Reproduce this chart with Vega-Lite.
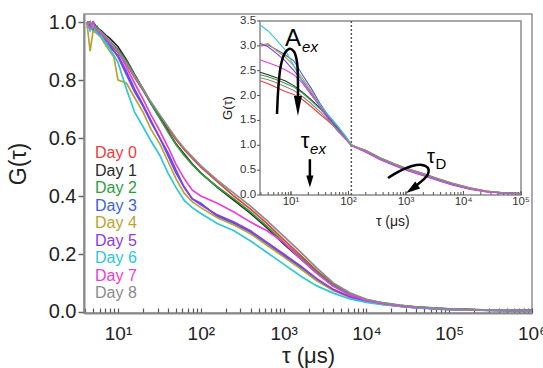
{
"$schema":"https://vega.github.io/schema/vega-lite/v6.json",
"width":448,"height":299,
"autosize":{"type":"none"},
"padding":{"left":84,"top":14,"right":11,"bottom":55},
"config":{"font":"Liberation Sans","view":{"stroke":"#8f8f8f","strokeWidth":1.5},"axis":{"grid":false,"labelColor":"#222","titleColor":"#222"}},
"datasets":{
"main":[
{"s":"Day 0","t":4.2,"g":1.0},{"s":"Day 0","t":4.6,"g":0.98},{"s":"Day 0","t":5,"g":0.99},{"s":"Day 0","t":5.6,"g":0.97},{"s":"Day 0","t":6.3,"g":0.96},{"s":"Day 0","t":7.1,"g":0.94},{"s":"Day 0","t":7.9,"g":0.93},{"s":"Day 0","t":8.9,"g":0.91},{"s":"Day 0","t":10,"g":0.895},{"s":"Day 0","t":12.6,"g":0.855},{"s":"Day 0","t":15.8,"g":0.81},{"s":"Day 0","t":20,"g":0.765},{"s":"Day 0","t":25,"g":0.72},{"s":"Day 0","t":32,"g":0.675},{"s":"Day 0","t":40,"g":0.635},{"s":"Day 0","t":50,"g":0.595},{"s":"Day 0","t":63,"g":0.56},{"s":"Day 0","t":79,"g":0.53},{"s":"Day 0","t":100,"g":0.5},{"s":"Day 0","t":158,"g":0.45},{"s":"Day 0","t":251,"g":0.4},{"s":"Day 0","t":398,"g":0.355},{"s":"Day 0","t":631,"g":0.305},{"s":"Day 0","t":1000,"g":0.25},{"s":"Day 0","t":1585,"g":0.197},{"s":"Day 0","t":2512,"g":0.143},{"s":"Day 0","t":3981,"g":0.096},{"s":"Day 0","t":6310,"g":0.063},{"s":"Day 0","t":10000,"g":0.042},{"s":"Day 0","t":15850,"g":0.031},{"s":"Day 0","t":25120,"g":0.023},{"s":"Day 0","t":39810,"g":0.017},{"s":"Day 0","t":63100,"g":0.013},{"s":"Day 0","t":100000,"g":0.01},{"s":"Day 0","t":200000,"g":0.008},{"s":"Day 0","t":400000,"g":0.006},{"s":"Day 0","t":1000000,"g":0.006},
{"s":"Day 1","t":4.2,"g":1.0},{"s":"Day 1","t":4.6,"g":0.99},{"s":"Day 1","t":5,"g":1.0},{"s":"Day 1","t":5.6,"g":0.98},{"s":"Day 1","t":6.3,"g":0.97},{"s":"Day 1","t":7.1,"g":0.955},{"s":"Day 1","t":7.9,"g":0.945},{"s":"Day 1","t":8.9,"g":0.93},{"s":"Day 1","t":10,"g":0.915},{"s":"Day 1","t":12.6,"g":0.87},{"s":"Day 1","t":15.8,"g":0.82},{"s":"Day 1","t":20,"g":0.77},{"s":"Day 1","t":25,"g":0.72},{"s":"Day 1","t":32,"g":0.67},{"s":"Day 1","t":40,"g":0.625},{"s":"Day 1","t":50,"g":0.58},{"s":"Day 1","t":63,"g":0.545},{"s":"Day 1","t":79,"g":0.51},{"s":"Day 1","t":100,"g":0.48},{"s":"Day 1","t":158,"g":0.43},{"s":"Day 1","t":251,"g":0.385},{"s":"Day 1","t":398,"g":0.34},{"s":"Day 1","t":631,"g":0.29},{"s":"Day 1","t":1000,"g":0.235},{"s":"Day 1","t":1585,"g":0.185},{"s":"Day 1","t":2512,"g":0.135},{"s":"Day 1","t":3981,"g":0.09},{"s":"Day 1","t":6310,"g":0.06},{"s":"Day 1","t":10000,"g":0.04},{"s":"Day 1","t":15850,"g":0.03},{"s":"Day 1","t":25120,"g":0.022},{"s":"Day 1","t":39810,"g":0.017},{"s":"Day 1","t":63100,"g":0.013},{"s":"Day 1","t":100000,"g":0.01},{"s":"Day 1","t":200000,"g":0.007},{"s":"Day 1","t":400000,"g":0.006},{"s":"Day 1","t":1000000,"g":0.005},
{"s":"Day 2","t":4.2,"g":0.98},{"s":"Day 2","t":4.6,"g":1.0},{"s":"Day 2","t":5,"g":0.97},{"s":"Day 2","t":5.6,"g":0.985},{"s":"Day 2","t":6.3,"g":0.96},{"s":"Day 2","t":7.1,"g":0.95},{"s":"Day 2","t":7.9,"g":0.935},{"s":"Day 2","t":8.9,"g":0.92},{"s":"Day 2","t":10,"g":0.905},{"s":"Day 2","t":12.6,"g":0.865},{"s":"Day 2","t":15.8,"g":0.815},{"s":"Day 2","t":20,"g":0.768},{"s":"Day 2","t":25,"g":0.718},{"s":"Day 2","t":32,"g":0.668},{"s":"Day 2","t":40,"g":0.622},{"s":"Day 2","t":50,"g":0.578},{"s":"Day 2","t":63,"g":0.54},{"s":"Day 2","t":79,"g":0.508},{"s":"Day 2","t":100,"g":0.478},{"s":"Day 2","t":158,"g":0.432},{"s":"Day 2","t":251,"g":0.39},{"s":"Day 2","t":398,"g":0.345},{"s":"Day 2","t":631,"g":0.295},{"s":"Day 2","t":1000,"g":0.24},{"s":"Day 2","t":1585,"g":0.19},{"s":"Day 2","t":2512,"g":0.138},{"s":"Day 2","t":3981,"g":0.092},{"s":"Day 2","t":6310,"g":0.062},{"s":"Day 2","t":10000,"g":0.042},{"s":"Day 2","t":15850,"g":0.031},{"s":"Day 2","t":25120,"g":0.023},{"s":"Day 2","t":39810,"g":0.017},{"s":"Day 2","t":63100,"g":0.014},{"s":"Day 2","t":100000,"g":0.011},{"s":"Day 2","t":200000,"g":0.008},{"s":"Day 2","t":400000,"g":0.006},{"s":"Day 2","t":1000000,"g":0.005},
{"s":"Day 3","t":4.2,"g":0.99},{"s":"Day 3","t":4.6,"g":1.0},{"s":"Day 3","t":5,"g":0.97},{"s":"Day 3","t":5.6,"g":0.965},{"s":"Day 3","t":6.3,"g":0.95},{"s":"Day 3","t":7.1,"g":0.935},{"s":"Day 3","t":7.9,"g":0.915},{"s":"Day 3","t":8.9,"g":0.9},{"s":"Day 3","t":10,"g":0.885},{"s":"Day 3","t":12.6,"g":0.83},{"s":"Day 3","t":15.8,"g":0.77},{"s":"Day 3","t":20,"g":0.715},{"s":"Day 3","t":25,"g":0.66},{"s":"Day 3","t":32,"g":0.6},{"s":"Day 3","t":40,"g":0.55},{"s":"Day 3","t":50,"g":0.49},{"s":"Day 3","t":63,"g":0.43},{"s":"Day 3","t":79,"g":0.39},{"s":"Day 3","t":100,"g":0.375},{"s":"Day 3","t":158,"g":0.33},{"s":"Day 3","t":251,"g":0.305},{"s":"Day 3","t":398,"g":0.275},{"s":"Day 3","t":631,"g":0.235},{"s":"Day 3","t":1000,"g":0.195},{"s":"Day 3","t":1585,"g":0.155},{"s":"Day 3","t":2512,"g":0.112},{"s":"Day 3","t":3981,"g":0.076},{"s":"Day 3","t":6310,"g":0.052},{"s":"Day 3","t":10000,"g":0.036},{"s":"Day 3","t":15850,"g":0.027},{"s":"Day 3","t":25120,"g":0.02},{"s":"Day 3","t":39810,"g":0.015},{"s":"Day 3","t":63100,"g":0.012},{"s":"Day 3","t":100000,"g":0.009},{"s":"Day 3","t":200000,"g":0.007},{"s":"Day 3","t":400000,"g":0.006},{"s":"Day 3","t":1000000,"g":0.005},
{"s":"Day 4","t":4.2,"g":1.0},{"s":"Day 4","t":4.6,"g":0.9},{"s":"Day 4","t":5,"g":0.97},{"s":"Day 4","t":5.6,"g":0.96},{"s":"Day 4","t":6.3,"g":0.945},{"s":"Day 4","t":7.1,"g":0.92},{"s":"Day 4","t":7.9,"g":0.9},{"s":"Day 4","t":8.9,"g":0.88},{"s":"Day 4","t":10,"g":0.8},{"s":"Day 4","t":12.6,"g":0.79},{"s":"Day 4","t":15.8,"g":0.74},{"s":"Day 4","t":20,"g":0.69},{"s":"Day 4","t":25,"g":0.63},{"s":"Day 4","t":32,"g":0.58},{"s":"Day 4","t":40,"g":0.52},{"s":"Day 4","t":50,"g":0.46},{"s":"Day 4","t":63,"g":0.41},{"s":"Day 4","t":79,"g":0.38},{"s":"Day 4","t":100,"g":0.36},{"s":"Day 4","t":158,"g":0.325},{"s":"Day 4","t":251,"g":0.3},{"s":"Day 4","t":398,"g":0.27},{"s":"Day 4","t":631,"g":0.23},{"s":"Day 4","t":1000,"g":0.19},{"s":"Day 4","t":1585,"g":0.15},{"s":"Day 4","t":2512,"g":0.108},{"s":"Day 4","t":3981,"g":0.074},{"s":"Day 4","t":6310,"g":0.05},{"s":"Day 4","t":10000,"g":0.035},{"s":"Day 4","t":15850,"g":0.026},{"s":"Day 4","t":25120,"g":0.02},{"s":"Day 4","t":39810,"g":0.015},{"s":"Day 4","t":63100,"g":0.012},{"s":"Day 4","t":100000,"g":0.009},{"s":"Day 4","t":200000,"g":0.007},{"s":"Day 4","t":400000,"g":0.005},{"s":"Day 4","t":1000000,"g":0.005},
{"s":"Day 5","t":4.2,"g":1.0},{"s":"Day 5","t":4.6,"g":1.0},{"s":"Day 5","t":5,"g":0.98},{"s":"Day 5","t":5.6,"g":0.97},{"s":"Day 5","t":6.3,"g":0.96},{"s":"Day 5","t":7.1,"g":0.945},{"s":"Day 5","t":7.9,"g":0.925},{"s":"Day 5","t":8.9,"g":0.9},{"s":"Day 5","t":10,"g":0.88},{"s":"Day 5","t":12.6,"g":0.82},{"s":"Day 5","t":15.8,"g":0.76},{"s":"Day 5","t":20,"g":0.71},{"s":"Day 5","t":25,"g":0.655},{"s":"Day 5","t":32,"g":0.6},{"s":"Day 5","t":40,"g":0.54},{"s":"Day 5","t":50,"g":0.48},{"s":"Day 5","t":63,"g":0.43},{"s":"Day 5","t":79,"g":0.39},{"s":"Day 5","t":100,"g":0.37},{"s":"Day 5","t":158,"g":0.335},{"s":"Day 5","t":251,"g":0.31},{"s":"Day 5","t":398,"g":0.28},{"s":"Day 5","t":631,"g":0.24},{"s":"Day 5","t":1000,"g":0.2},{"s":"Day 5","t":1585,"g":0.16},{"s":"Day 5","t":2512,"g":0.115},{"s":"Day 5","t":3981,"g":0.078},{"s":"Day 5","t":6310,"g":0.053},{"s":"Day 5","t":10000,"g":0.037},{"s":"Day 5","t":15850,"g":0.027},{"s":"Day 5","t":25120,"g":0.02},{"s":"Day 5","t":39810,"g":0.015},{"s":"Day 5","t":63100,"g":0.012},{"s":"Day 5","t":100000,"g":0.009},{"s":"Day 5","t":200000,"g":0.007},{"s":"Day 5","t":400000,"g":0.005},{"s":"Day 5","t":1000000,"g":0.005},
{"s":"Day 6","t":4.2,"g":1.0},{"s":"Day 6","t":4.6,"g":0.97},{"s":"Day 6","t":5,"g":0.99},{"s":"Day 6","t":5.6,"g":0.96},{"s":"Day 6","t":6.3,"g":0.95},{"s":"Day 6","t":7.1,"g":0.93},{"s":"Day 6","t":7.9,"g":0.91},{"s":"Day 6","t":8.9,"g":0.885},{"s":"Day 6","t":10,"g":0.86},{"s":"Day 6","t":12.6,"g":0.77},{"s":"Day 6","t":15.8,"g":0.69},{"s":"Day 6","t":20,"g":0.64},{"s":"Day 6","t":25,"g":0.59},{"s":"Day 6","t":32,"g":0.54},{"s":"Day 6","t":40,"g":0.48},{"s":"Day 6","t":50,"g":0.43},{"s":"Day 6","t":63,"g":0.385},{"s":"Day 6","t":79,"g":0.36},{"s":"Day 6","t":100,"g":0.34},{"s":"Day 6","t":158,"g":0.305},{"s":"Day 6","t":251,"g":0.28},{"s":"Day 6","t":398,"g":0.245},{"s":"Day 6","t":631,"g":0.205},{"s":"Day 6","t":1000,"g":0.165},{"s":"Day 6","t":1585,"g":0.125},{"s":"Day 6","t":2512,"g":0.09},{"s":"Day 6","t":3981,"g":0.065},{"s":"Day 6","t":6310,"g":0.045},{"s":"Day 6","t":10000,"g":0.033},{"s":"Day 6","t":15850,"g":0.025},{"s":"Day 6","t":25120,"g":0.019},{"s":"Day 6","t":39810,"g":0.014},{"s":"Day 6","t":63100,"g":0.011},{"s":"Day 6","t":100000,"g":0.008},{"s":"Day 6","t":200000,"g":0.006},{"s":"Day 6","t":400000,"g":0.005},{"s":"Day 6","t":1000000,"g":0.004},
{"s":"Day 7","t":4.2,"g":1.0},{"s":"Day 7","t":4.6,"g":0.98},{"s":"Day 7","t":5,"g":1.0},{"s":"Day 7","t":5.6,"g":0.97},{"s":"Day 7","t":6.3,"g":0.96},{"s":"Day 7","t":7.1,"g":0.945},{"s":"Day 7","t":7.9,"g":0.93},{"s":"Day 7","t":8.9,"g":0.915},{"s":"Day 7","t":10,"g":0.9},{"s":"Day 7","t":12.6,"g":0.845},{"s":"Day 7","t":15.8,"g":0.79},{"s":"Day 7","t":20,"g":0.735},{"s":"Day 7","t":25,"g":0.68},{"s":"Day 7","t":32,"g":0.625},{"s":"Day 7","t":40,"g":0.57},{"s":"Day 7","t":50,"g":0.51},{"s":"Day 7","t":63,"g":0.46},{"s":"Day 7","t":79,"g":0.42},{"s":"Day 7","t":100,"g":0.4},{"s":"Day 7","t":158,"g":0.375},{"s":"Day 7","t":251,"g":0.345},{"s":"Day 7","t":398,"g":0.31},{"s":"Day 7","t":631,"g":0.28},{"s":"Day 7","t":1000,"g":0.24},{"s":"Day 7","t":1585,"g":0.185},{"s":"Day 7","t":2512,"g":0.133},{"s":"Day 7","t":3981,"g":0.089},{"s":"Day 7","t":6310,"g":0.059},{"s":"Day 7","t":10000,"g":0.04},{"s":"Day 7","t":15850,"g":0.029},{"s":"Day 7","t":25120,"g":0.021},{"s":"Day 7","t":39810,"g":0.016},{"s":"Day 7","t":63100,"g":0.012},{"s":"Day 7","t":100000,"g":0.009},{"s":"Day 7","t":200000,"g":0.007},{"s":"Day 7","t":400000,"g":0.006},{"s":"Day 7","t":1000000,"g":0.005},
{"s":"Day 8","t":4.2,"g":0.99},{"s":"Day 8","t":4.6,"g":1.0},{"s":"Day 8","t":5,"g":0.98},{"s":"Day 8","t":5.6,"g":0.975},{"s":"Day 8","t":6.3,"g":0.965},{"s":"Day 8","t":7.1,"g":0.95},{"s":"Day 8","t":7.9,"g":0.935},{"s":"Day 8","t":8.9,"g":0.915},{"s":"Day 8","t":10,"g":0.9},{"s":"Day 8","t":12.6,"g":0.86},{"s":"Day 8","t":15.8,"g":0.815},{"s":"Day 8","t":20,"g":0.77},{"s":"Day 8","t":25,"g":0.725},{"s":"Day 8","t":32,"g":0.68},{"s":"Day 8","t":40,"g":0.64},{"s":"Day 8","t":50,"g":0.6},{"s":"Day 8","t":63,"g":0.565},{"s":"Day 8","t":79,"g":0.535},{"s":"Day 8","t":100,"g":0.505},{"s":"Day 8","t":158,"g":0.455},{"s":"Day 8","t":251,"g":0.41},{"s":"Day 8","t":398,"g":0.365},{"s":"Day 8","t":631,"g":0.315},{"s":"Day 8","t":1000,"g":0.262},{"s":"Day 8","t":1585,"g":0.208},{"s":"Day 8","t":2512,"g":0.152},{"s":"Day 8","t":3981,"g":0.1},{"s":"Day 8","t":6310,"g":0.066},{"s":"Day 8","t":10000,"g":0.044},{"s":"Day 8","t":15850,"g":0.032},{"s":"Day 8","t":25120,"g":0.024},{"s":"Day 8","t":39810,"g":0.018},{"s":"Day 8","t":63100,"g":0.014},{"s":"Day 8","t":100000,"g":0.011},{"s":"Day 8","t":200000,"g":0.008},{"s":"Day 8","t":400000,"g":0.007},{"s":"Day 8","t":1000000,"g":0.006}
],
"inset":[
{"s":"Day 0","t":2.9,"g":2.3},{"s":"Day 0","t":4,"g":2.24},{"s":"Day 0","t":5.6,"g":2.16},{"s":"Day 0","t":7.9,"g":2.08},{"s":"Day 0","t":11.2,"g":2.02},{"s":"Day 0","t":15.8,"g":1.92},{"s":"Day 0","t":22.4,"g":1.78},{"s":"Day 0","t":31.6,"g":1.63},{"s":"Day 0","t":44.7,"g":1.48},{"s":"Day 0","t":63.1,"g":1.32},{"s":"Day 0","t":89.1,"g":1.13},{"s":"Day 0","t":112,"g":1.0},{"s":"Day 0","t":200,"g":0.9},{"s":"Day 0","t":355,"g":0.75},{"s":"Day 0","t":631,"g":0.63},{"s":"Day 0","t":1122,"g":0.52},{"s":"Day 0","t":1995,"g":0.43},{"s":"Day 0","t":3548,"g":0.33},{"s":"Day 0","t":6310,"g":0.24},{"s":"Day 0","t":12590,"g":0.15},{"s":"Day 0","t":25120,"g":0.08},{"s":"Day 0","t":50120,"g":0.045},{"s":"Day 0","t":100000,"g":0.03},
{"s":"Day 1","t":2.9,"g":2.47},{"s":"Day 1","t":4,"g":2.42},{"s":"Day 1","t":5.6,"g":2.36},{"s":"Day 1","t":7.9,"g":2.3},{"s":"Day 1","t":11.2,"g":2.2},{"s":"Day 1","t":15.8,"g":2.07},{"s":"Day 1","t":22.4,"g":1.92},{"s":"Day 1","t":31.6,"g":1.75},{"s":"Day 1","t":44.7,"g":1.55},{"s":"Day 1","t":63.1,"g":1.35},{"s":"Day 1","t":89.1,"g":1.15},{"s":"Day 1","t":112,"g":0.995},{"s":"Day 1","t":200,"g":0.88},{"s":"Day 1","t":355,"g":0.73},{"s":"Day 1","t":631,"g":0.61},{"s":"Day 1","t":1122,"g":0.5},{"s":"Day 1","t":1995,"g":0.41},{"s":"Day 1","t":3548,"g":0.31},{"s":"Day 1","t":6310,"g":0.22},{"s":"Day 1","t":12590,"g":0.13},{"s":"Day 1","t":25120,"g":0.07},{"s":"Day 1","t":50120,"g":0.04},{"s":"Day 1","t":100000,"g":0.03},
{"s":"Day 2","t":2.9,"g":2.42},{"s":"Day 2","t":4,"g":2.38},{"s":"Day 2","t":5.6,"g":2.32},{"s":"Day 2","t":7.9,"g":2.25},{"s":"Day 2","t":11.2,"g":2.17},{"s":"Day 2","t":15.8,"g":2.05},{"s":"Day 2","t":22.4,"g":1.9},{"s":"Day 2","t":31.6,"g":1.74},{"s":"Day 2","t":44.7,"g":1.55},{"s":"Day 2","t":63.1,"g":1.36},{"s":"Day 2","t":89.1,"g":1.16},{"s":"Day 2","t":112,"g":1.0},{"s":"Day 2","t":200,"g":0.89},{"s":"Day 2","t":355,"g":0.74},{"s":"Day 2","t":631,"g":0.62},{"s":"Day 2","t":1122,"g":0.51},{"s":"Day 2","t":1995,"g":0.42},{"s":"Day 2","t":3548,"g":0.32},{"s":"Day 2","t":6310,"g":0.23},{"s":"Day 2","t":12590,"g":0.138},{"s":"Day 2","t":25120,"g":0.075},{"s":"Day 2","t":50120,"g":0.042},{"s":"Day 2","t":100000,"g":0.03},
{"s":"Day 3","t":2.9,"g":3.0},{"s":"Day 3","t":4,"g":3.02},{"s":"Day 3","t":5.6,"g":2.92},{"s":"Day 3","t":7.9,"g":2.82},{"s":"Day 3","t":11.2,"g":2.7},{"s":"Day 3","t":15.8,"g":2.42},{"s":"Day 3","t":22.4,"g":2.15},{"s":"Day 3","t":31.6,"g":1.85},{"s":"Day 3","t":44.7,"g":1.6},{"s":"Day 3","t":63.1,"g":1.4},{"s":"Day 3","t":89.1,"g":1.18},{"s":"Day 3","t":112,"g":1.01},{"s":"Day 3","t":200,"g":0.87},{"s":"Day 3","t":355,"g":0.72},{"s":"Day 3","t":631,"g":0.6},{"s":"Day 3","t":1122,"g":0.49},{"s":"Day 3","t":1995,"g":0.4},{"s":"Day 3","t":3548,"g":0.3},{"s":"Day 3","t":6310,"g":0.21},{"s":"Day 3","t":12590,"g":0.125},{"s":"Day 3","t":25120,"g":0.067},{"s":"Day 3","t":50120,"g":0.04},{"s":"Day 3","t":100000,"g":0.03},
{"s":"Day 4","t":2.9,"g":3.0},{"s":"Day 4","t":4,"g":3.05},{"s":"Day 4","t":5.6,"g":2.9},{"s":"Day 4","t":7.9,"g":2.78},{"s":"Day 4","t":11.2,"g":2.6},{"s":"Day 4","t":15.8,"g":2.35},{"s":"Day 4","t":22.4,"g":2.1},{"s":"Day 4","t":31.6,"g":1.82},{"s":"Day 4","t":44.7,"g":1.58},{"s":"Day 4","t":63.1,"g":1.38},{"s":"Day 4","t":89.1,"g":1.17},{"s":"Day 4","t":112,"g":1.005},{"s":"Day 4","t":200,"g":0.895},{"s":"Day 4","t":355,"g":0.745},{"s":"Day 4","t":631,"g":0.625},{"s":"Day 4","t":1122,"g":0.515},{"s":"Day 4","t":1995,"g":0.425},{"s":"Day 4","t":3548,"g":0.325},{"s":"Day 4","t":6310,"g":0.235},{"s":"Day 4","t":12590,"g":0.14},{"s":"Day 4","t":25120,"g":0.077},{"s":"Day 4","t":50120,"g":0.043},{"s":"Day 4","t":100000,"g":0.03},
{"s":"Day 5","t":2.9,"g":3.05},{"s":"Day 5","t":4,"g":2.98},{"s":"Day 5","t":5.6,"g":2.85},{"s":"Day 5","t":7.9,"g":2.7},{"s":"Day 5","t":11.2,"g":2.5},{"s":"Day 5","t":15.8,"g":2.3},{"s":"Day 5","t":22.4,"g":2.05},{"s":"Day 5","t":31.6,"g":1.8},{"s":"Day 5","t":44.7,"g":1.57},{"s":"Day 5","t":63.1,"g":1.37},{"s":"Day 5","t":89.1,"g":1.16},{"s":"Day 5","t":112,"g":1.0},{"s":"Day 5","t":200,"g":0.87},{"s":"Day 5","t":355,"g":0.72},{"s":"Day 5","t":631,"g":0.6},{"s":"Day 5","t":1122,"g":0.49},{"s":"Day 5","t":1995,"g":0.4},{"s":"Day 5","t":3548,"g":0.3},{"s":"Day 5","t":6310,"g":0.21},{"s":"Day 5","t":12590,"g":0.124},{"s":"Day 5","t":25120,"g":0.066},{"s":"Day 5","t":50120,"g":0.038},{"s":"Day 5","t":100000,"g":0.028},
{"s":"Day 6","t":2.9,"g":3.42},{"s":"Day 6","t":4,"g":3.3},{"s":"Day 6","t":5.6,"g":3.12},{"s":"Day 6","t":7.9,"g":2.92},{"s":"Day 6","t":11.2,"g":2.6},{"s":"Day 6","t":15.8,"g":2.28},{"s":"Day 6","t":22.4,"g":2.02},{"s":"Day 6","t":31.6,"g":1.82},{"s":"Day 6","t":44.7,"g":1.6},{"s":"Day 6","t":63.1,"g":1.4},{"s":"Day 6","t":89.1,"g":1.18},{"s":"Day 6","t":112,"g":1.01},{"s":"Day 6","t":200,"g":0.865},{"s":"Day 6","t":355,"g":0.715},{"s":"Day 6","t":631,"g":0.595},{"s":"Day 6","t":1122,"g":0.485},{"s":"Day 6","t":1995,"g":0.395},{"s":"Day 6","t":3548,"g":0.295},{"s":"Day 6","t":6310,"g":0.205},{"s":"Day 6","t":12590,"g":0.12},{"s":"Day 6","t":25120,"g":0.065},{"s":"Day 6","t":50120,"g":0.037},{"s":"Day 6","t":100000,"g":0.028},
{"s":"Day 7","t":2.9,"g":2.72},{"s":"Day 7","t":4,"g":2.66},{"s":"Day 7","t":5.6,"g":2.6},{"s":"Day 7","t":7.9,"g":2.52},{"s":"Day 7","t":11.2,"g":2.42},{"s":"Day 7","t":15.8,"g":2.25},{"s":"Day 7","t":22.4,"g":2.02},{"s":"Day 7","t":31.6,"g":1.78},{"s":"Day 7","t":44.7,"g":1.52},{"s":"Day 7","t":63.1,"g":1.3},{"s":"Day 7","t":89.1,"g":1.12},{"s":"Day 7","t":112,"g":0.99},{"s":"Day 7","t":200,"g":0.86},{"s":"Day 7","t":355,"g":0.71},{"s":"Day 7","t":631,"g":0.59},{"s":"Day 7","t":1122,"g":0.48},{"s":"Day 7","t":1995,"g":0.39},{"s":"Day 7","t":3548,"g":0.29},{"s":"Day 7","t":6310,"g":0.2},{"s":"Day 7","t":12590,"g":0.115},{"s":"Day 7","t":25120,"g":0.062},{"s":"Day 7","t":50120,"g":0.035},{"s":"Day 7","t":100000,"g":0.028},
{"s":"Day 8","t":2.9,"g":2.36},{"s":"Day 8","t":4,"g":2.32},{"s":"Day 8","t":5.6,"g":2.26},{"s":"Day 8","t":7.9,"g":2.18},{"s":"Day 8","t":11.2,"g":2.1},{"s":"Day 8","t":15.8,"g":1.98},{"s":"Day 8","t":22.4,"g":1.84},{"s":"Day 8","t":31.6,"g":1.68},{"s":"Day 8","t":44.7,"g":1.5},{"s":"Day 8","t":63.1,"g":1.32},{"s":"Day 8","t":89.1,"g":1.14},{"s":"Day 8","t":112,"g":1.0},{"s":"Day 8","t":200,"g":0.895},{"s":"Day 8","t":355,"g":0.75},{"s":"Day 8","t":631,"g":0.63},{"s":"Day 8","t":1122,"g":0.52},{"s":"Day 8","t":1995,"g":0.43},{"s":"Day 8","t":3548,"g":0.33},{"s":"Day 8","t":6310,"g":0.24},{"s":"Day 8","t":12590,"g":0.145},{"s":"Day 8","t":25120,"g":0.08},{"s":"Day 8","t":50120,"g":0.045},{"s":"Day 8","t":100000,"g":0.03}
],
"arrows":[
{"a":"A","i":0,"t":5.71,"g":1.63},{"a":"A","i":1,"t":6.07,"g":2.21},{"a":"A","i":2,"t":6.7,"g":2.62},{"a":"A","i":3,"t":7.87,"g":2.86},{"a":"A","i":4,"t":9.6,"g":2.94},{"a":"A","i":5,"t":11.3,"g":2.88},{"a":"A","i":6,"t":12.7,"g":2.68},{"a":"A","i":7,"t":13.2,"g":2.31},{"a":"A","i":8,"t":13.2,"g":1.99},
{"a":"D","i":0,"t":486,"g":0.342},{"a":"D","i":1,"t":787,"g":0.483},{"a":"D","i":2,"t":1271,"g":0.583},{"a":"D","i":3,"t":1897,"g":0.604},{"a":"D","i":4,"t":2414,"g":0.543},{"a":"D","i":5,"t":2414,"g":0.423},{"a":"D","i":6,"t":1977,"g":0.302},{"a":"D","i":7,"t":1552,"g":0.201}
],
"iyticks":[{"v":0},{"v":0.5},{"v":1},{"v":1.5},{"v":2},{"v":2.5},{"v":3},{"v":3.5}],
"ixticks":[{"v":3},{"v":4},{"v":5},{"v":6},{"v":7},{"v":8},{"v":9},{"v":10,"lab":"10¹"},{"v":20},{"v":30},{"v":40},{"v":50},{"v":60},{"v":70},{"v":80},{"v":90},{"v":100,"lab":"10²"},{"v":200},{"v":300},{"v":400},{"v":500},{"v":600},{"v":700},{"v":800},{"v":900},{"v":1000,"lab":"10³"},{"v":2000},{"v":3000},{"v":4000},{"v":5000},{"v":6000},{"v":7000},{"v":8000},{"v":9000},{"v":10000,"lab":"10⁴"},{"v":20000},{"v":30000},{"v":40000},{"v":50000},{"v":60000},{"v":70000},{"v":80000},{"v":90000},{"v":100000,"lab":"10⁵"}]
},
"layer":[
{
"data":{"name":"main"},
"mark":{"type":"line","strokeWidth":1.7},
"encoding":{
"x":{"field":"t","type":"quantitative","scale":{"type":"log","domain":[3.88,1000000],"nice":false},
"axis":{"orient":"bottom","title":"τ (μs)","values":[4,5,6,7,8,9,10,20,30,40,50,60,70,80,90,100,200,300,400,500,600,700,800,900,1000,2000,3000,4000,5000,6000,7000,8000,9000,10000,20000,30000,40000,50000,60000,70000,80000,90000,100000,200000,300000,400000,500000,600000,700000,800000,900000,1000000],
"labelExpr":"datum.value==10?'10¹':datum.value==100?'10²':datum.value==1000?'10³':datum.value==10000?'10⁴':datum.value==100000?'10⁵':datum.value==1000000?'10⁶':''",
"labelOverlap":false,"labelFlush":false,"labelFontSize":19,"labelPadding":16,"tickSize":-5,"tickColor":"#555","tickWidth":1.2,"domainColor":"#8a8a8a","domainWidth":2,"titleFontSize":22,"titleFontWeight":"normal","titlePadding":2}},
"y":{"field":"g","type":"quantitative","scale":{"domain":[-0.0035,1.028],"nice":false,"zero":false},
"axis":{"orient":"left","values":[0,0.2,0.4,0.6,0.8,1],"format":".1f","title":"G(τ)","labelFontSize":20,"tickSize":6,"labelPadding":2,"tickColor":"#666","tickWidth":1.5,"domainColor":"#8a8a8a","domainWidth":2,"titleFontSize":23,"titleFontWeight":"normal","titlePadding":18}},
"color":{"field":"s","type":"nominal","scale":{"domain":["Day 0","Day 1","Day 2","Day 3","Day 4","Day 5","Day 6","Day 7","Day 8"],"range":["#e8413c","#2b2b2b","#2e9e3e","#3f5fe0","#b5a534","#8e3ae6","#2ec8d4","#e83fd6","#8c8c8c"]},
"legend":{"orient":"none","legendX":-5,"legendY":131,"title":null,"symbolSize":0,"symbolStrokeWidth":0,"symbolOpacity":0,"labelOffset":0,"labelFontSize":16,"rowPadding":1.5,"encode":{"labels":{"update":{"fill":{"scale":"color","field":"value"}}}}}}
}
},
{
"layer":[
{"data":{"values":[{}]},"mark":{"type":"rect","fill":"white","stroke":"#8a8a8a","strokeWidth":1.5},
"encoding":{"x":{"datum":2.89,"type":"quantitative","scale":{"type":"log","domain":[2.89,100000],"range":[176,437],"nice":false},"axis":null},"x2":{"datum":100000},"y":{"datum":0,"type":"quantitative","scale":{"domain":[0,3.5],"range":[181,7],"nice":false,"zero":false},"axis":null},"y2":{"datum":3.5}}},
{"data":{"values":[{}]},"mark":{"type":"rule","color":"#555","strokeWidth":1.5,"strokeDash":[2,2]},
"encoding":{"x":{"datum":112,"type":"quantitative","scale":{"type":"log","domain":[2.89,100000],"range":[176,437],"nice":false},"axis":null},"y":{"datum":0,"type":"quantitative","scale":{"domain":[0,3.5],"range":[181,7],"nice":false,"zero":false},"axis":null},"y2":{"datum":3.5}}},
{"data":{"name":"iyticks"},"mark":{"type":"point","shape":"M-1,0L0,0","size":36,"filled":false,"stroke":"#555","strokeWidth":1,"opacity":1},
"encoding":{"x":{"datum":2.89,"type":"quantitative","scale":{"type":"log","domain":[2.89,100000],"range":[176,437],"nice":false},"axis":null},"y":{"field":"v","type":"quantitative","scale":{"domain":[0,3.5],"range":[181,7],"nice":false,"zero":false},"axis":null}}},
{"data":{"name":"iyticks"},"mark":{"type":"text","align":"right","baseline":"middle","fontSize":11.5,"color":"#333"},
"encoding":{"x":{"datum":2.47,"type":"quantitative","scale":{"type":"log","domain":[2.89,100000],"range":[176,437],"nice":false},"axis":null},"y":{"field":"v","type":"quantitative","scale":{"domain":[0,3.5],"range":[181,7],"nice":false,"zero":false},"axis":null},"text":{"field":"v","type":"quantitative","format":".1f"}}},
{"data":{"name":"ixticks"},"mark":{"type":"point","shape":"M0,0L0,-1","size":36,"filled":false,"stroke":"#555","strokeWidth":1,"opacity":1},
"encoding":{"x":{"field":"v","type":"quantitative","scale":{"type":"log","domain":[2.89,100000],"range":[176,437],"nice":false},"axis":null},"y":{"datum":0,"type":"quantitative","scale":{"domain":[0,3.5],"range":[181,7],"nice":false,"zero":false},"axis":null}}},
{"data":{"name":"ixticks"},"transform":[{"filter":"datum.lab"}],"mark":{"type":"point","shape":"M0,0L0,-1","size":64,"filled":false,"stroke":"#555","strokeWidth":1,"opacity":1},
"encoding":{"x":{"field":"v","type":"quantitative","scale":{"type":"log","domain":[2.89,100000],"range":[176,437],"nice":false},"axis":null},"y":{"datum":0,"type":"quantitative","scale":{"domain":[0,3.5],"range":[181,7],"nice":false,"zero":false},"axis":null}}},
{"data":{"name":"ixticks"},"transform":[{"filter":"datum.lab"}],"mark":{"type":"text","align":"center","baseline":"middle","fontSize":11.5,"color":"#333"},
"encoding":{"x":{"field":"v","type":"quantitative","scale":{"type":"log","domain":[2.89,100000],"range":[176,437],"nice":false},"axis":null},"y":{"datum":-0.14,"type":"quantitative","scale":{"domain":[0,3.5],"range":[181,7],"nice":false,"zero":false},"axis":null},"text":{"field":"lab"}}},
{"data":{"values":[{}]},"mark":{"type":"text","text":"τ (μs)","fontSize":14,"align":"center","baseline":"middle","color":"#222"},
"encoding":{"x":{"datum":590,"type":"quantitative","scale":{"type":"log","domain":[2.89,100000],"range":[176,437],"nice":false},"axis":null},"y":{"datum":-0.55,"type":"quantitative","scale":{"domain":[0,3.5],"range":[181,7],"nice":false,"zero":false},"axis":null}}},
{"data":{"values":[{}]},"mark":{"type":"text","text":"G(τ)","fontSize":13,"angle":270,"align":"center","baseline":"middle","color":"#222"},
"encoding":{"x":{"datum":0.8,"type":"quantitative","scale":{"type":"log","domain":[2.89,100000],"range":[176,437],"nice":false},"axis":null},"y":{"datum":1.75,"type":"quantitative","scale":{"domain":[0,3.5],"range":[181,7],"nice":false,"zero":false},"axis":null}}},
{"data":{"name":"inset"},"mark":{"type":"line","strokeWidth":1.1},
"encoding":{
"x":{"field":"t","type":"quantitative","scale":{"type":"log","domain":[2.89,100000],"range":[176,437],"nice":false},"axis":null},
"y":{"field":"g","type":"quantitative","scale":{"domain":[0,3.5],"range":[181,7],"nice":false,"zero":false},"axis":null},
"color":{"field":"s","type":"nominal","scale":{"domain":["Day 0","Day 1","Day 2","Day 3","Day 4","Day 5","Day 6","Day 7","Day 8"],"range":["#e8413c","#2b2b2b","#2e9e3e","#3f5fe0","#b5a534","#8e3ae6","#2ec8d4","#e83fd6","#8c8c8c"]},"legend":null}
}},
{"data":{"name":"arrows"},"mark":{"type":"line","color":"black","strokeWidth":2.5,"interpolate":"catmull-rom"},
"encoding":{"x":{"field":"t","type":"quantitative","scale":{"type":"log","domain":[2.89,100000],"range":[176,437],"nice":false},"axis":null},"y":{"field":"g","type":"quantitative","scale":{"domain":[0,3.5],"range":[181,7],"nice":false,"zero":false},"axis":null},"detail":{"field":"a"},"order":{"field":"i","type":"quantitative"}}},
{"data":{"values":[{}]},"mark":{"type":"rule","color":"black","strokeWidth":2.5},
"encoding":{"x":{"datum":21.3,"type":"quantitative","scale":{"type":"log","domain":[2.89,100000],"range":[176,437],"nice":false},"axis":null},"y":{"datum":0.72,"type":"quantitative","scale":{"domain":[0,3.5],"range":[181,7],"nice":false,"zero":false},"axis":null},"y2":{"datum":0.38}}},
{"data":{"values":[{}]},"mark":{"type":"point","filled":true,"color":"black","opacity":1,"shape":"M-0.4,-1L0.4,-1L0,1Z","size":400},
"encoding":{"x":{"datum":13.2,"type":"quantitative","scale":{"type":"log","domain":[2.89,100000],"range":[176,437],"nice":false},"axis":null},"y":{"datum":1.79,"type":"quantitative","scale":{"domain":[0,3.5],"range":[181,7],"nice":false,"zero":false},"axis":null}}},
{"data":{"values":[{}]},"mark":{"type":"point","filled":true,"color":"black","opacity":1,"shape":"M-0.6,-1L0.6,-1L0,1Z","size":144},
"encoding":{"x":{"datum":21.3,"type":"quantitative","scale":{"type":"log","domain":[2.89,100000],"range":[176,437],"nice":false},"axis":null},"y":{"datum":0.27,"type":"quantitative","scale":{"domain":[0,3.5],"range":[181,7],"nice":false,"zero":false},"axis":null}}},
{"data":{"values":[{}]},"mark":{"type":"point","filled":true,"color":"black","opacity":1,"shape":"M-0.6,-1L0.6,-1L0,1Z","size":196,"angle":55},
"encoding":{"x":{"datum":1271,"type":"quantitative","scale":{"type":"log","domain":[2.89,100000],"range":[176,437],"nice":false},"axis":null},"y":{"datum":0.12,"type":"quantitative","scale":{"domain":[0,3.5],"range":[181,7],"nice":false,"zero":false},"axis":null}}},
{"data":{"values":[{}]},"mark":{"type":"text","text":"A","fontSize":24,"align":"center","baseline":"middle","color":"black"},
"encoding":{"x":{"datum":10.8,"type":"quantitative","scale":{"type":"log","domain":[2.89,100000],"range":[176,437],"nice":false},"axis":null},"y":{"datum":3.14,"type":"quantitative","scale":{"domain":[0,3.5],"range":[181,7],"nice":false,"zero":false},"axis":null}}},
{"data":{"values":[{}]},"mark":{"type":"text","text":"ex","fontSize":15,"fontStyle":"italic","align":"center","baseline":"middle","color":"black"},
"encoding":{"x":{"datum":21.4,"type":"quantitative","scale":{"type":"log","domain":[2.89,100000],"range":[176,437],"nice":false},"axis":null},"y":{"datum":2.98,"type":"quantitative","scale":{"domain":[0,3.5],"range":[181,7],"nice":false,"zero":false},"axis":null}}},
{"data":{"values":[{}]},"mark":{"type":"text","text":"τ","fontSize":22,"align":"center","baseline":"middle","color":"black"},
"encoding":{"x":{"datum":17.5,"type":"quantitative","scale":{"type":"log","domain":[2.89,100000],"range":[176,437],"nice":false},"axis":null},"y":{"datum":1.09,"type":"quantitative","scale":{"domain":[0,3.5],"range":[181,7],"nice":false,"zero":false},"axis":null}}},
{"data":{"values":[{}]},"mark":{"type":"text","text":"ex","fontSize":15,"fontStyle":"italic","align":"center","baseline":"middle","color":"black"},
"encoding":{"x":{"datum":29.5,"type":"quantitative","scale":{"type":"log","domain":[2.89,100000],"range":[176,437],"nice":false},"axis":null},"y":{"datum":0.93,"type":"quantitative","scale":{"domain":[0,3.5],"range":[181,7],"nice":false,"zero":false},"axis":null}}},
{"data":{"values":[{}]},"mark":{"type":"text","text":"τ","fontSize":20,"align":"center","baseline":"middle","color":"black"},
"encoding":{"x":{"datum":2723,"type":"quantitative","scale":{"type":"log","domain":[2.89,100000],"range":[176,437],"nice":false},"axis":null},"y":{"datum":0.765,"type":"quantitative","scale":{"domain":[0,3.5],"range":[181,7],"nice":false,"zero":false},"axis":null}}},
{"data":{"values":[{}]},"mark":{"type":"text","text":"D","fontSize":15,"align":"center","baseline":"middle","color":"black"},
"encoding":{"x":{"datum":4064,"type":"quantitative","scale":{"type":"log","domain":[2.89,100000],"range":[176,437],"nice":false},"axis":null},"y":{"datum":0.62,"type":"quantitative","scale":{"domain":[0,3.5],"range":[181,7],"nice":false,"zero":false},"axis":null}}}
]
}
],
"resolve":{"scale":{"x":"independent","y":"independent"},"axis":{"x":"independent","y":"independent"}}
}
